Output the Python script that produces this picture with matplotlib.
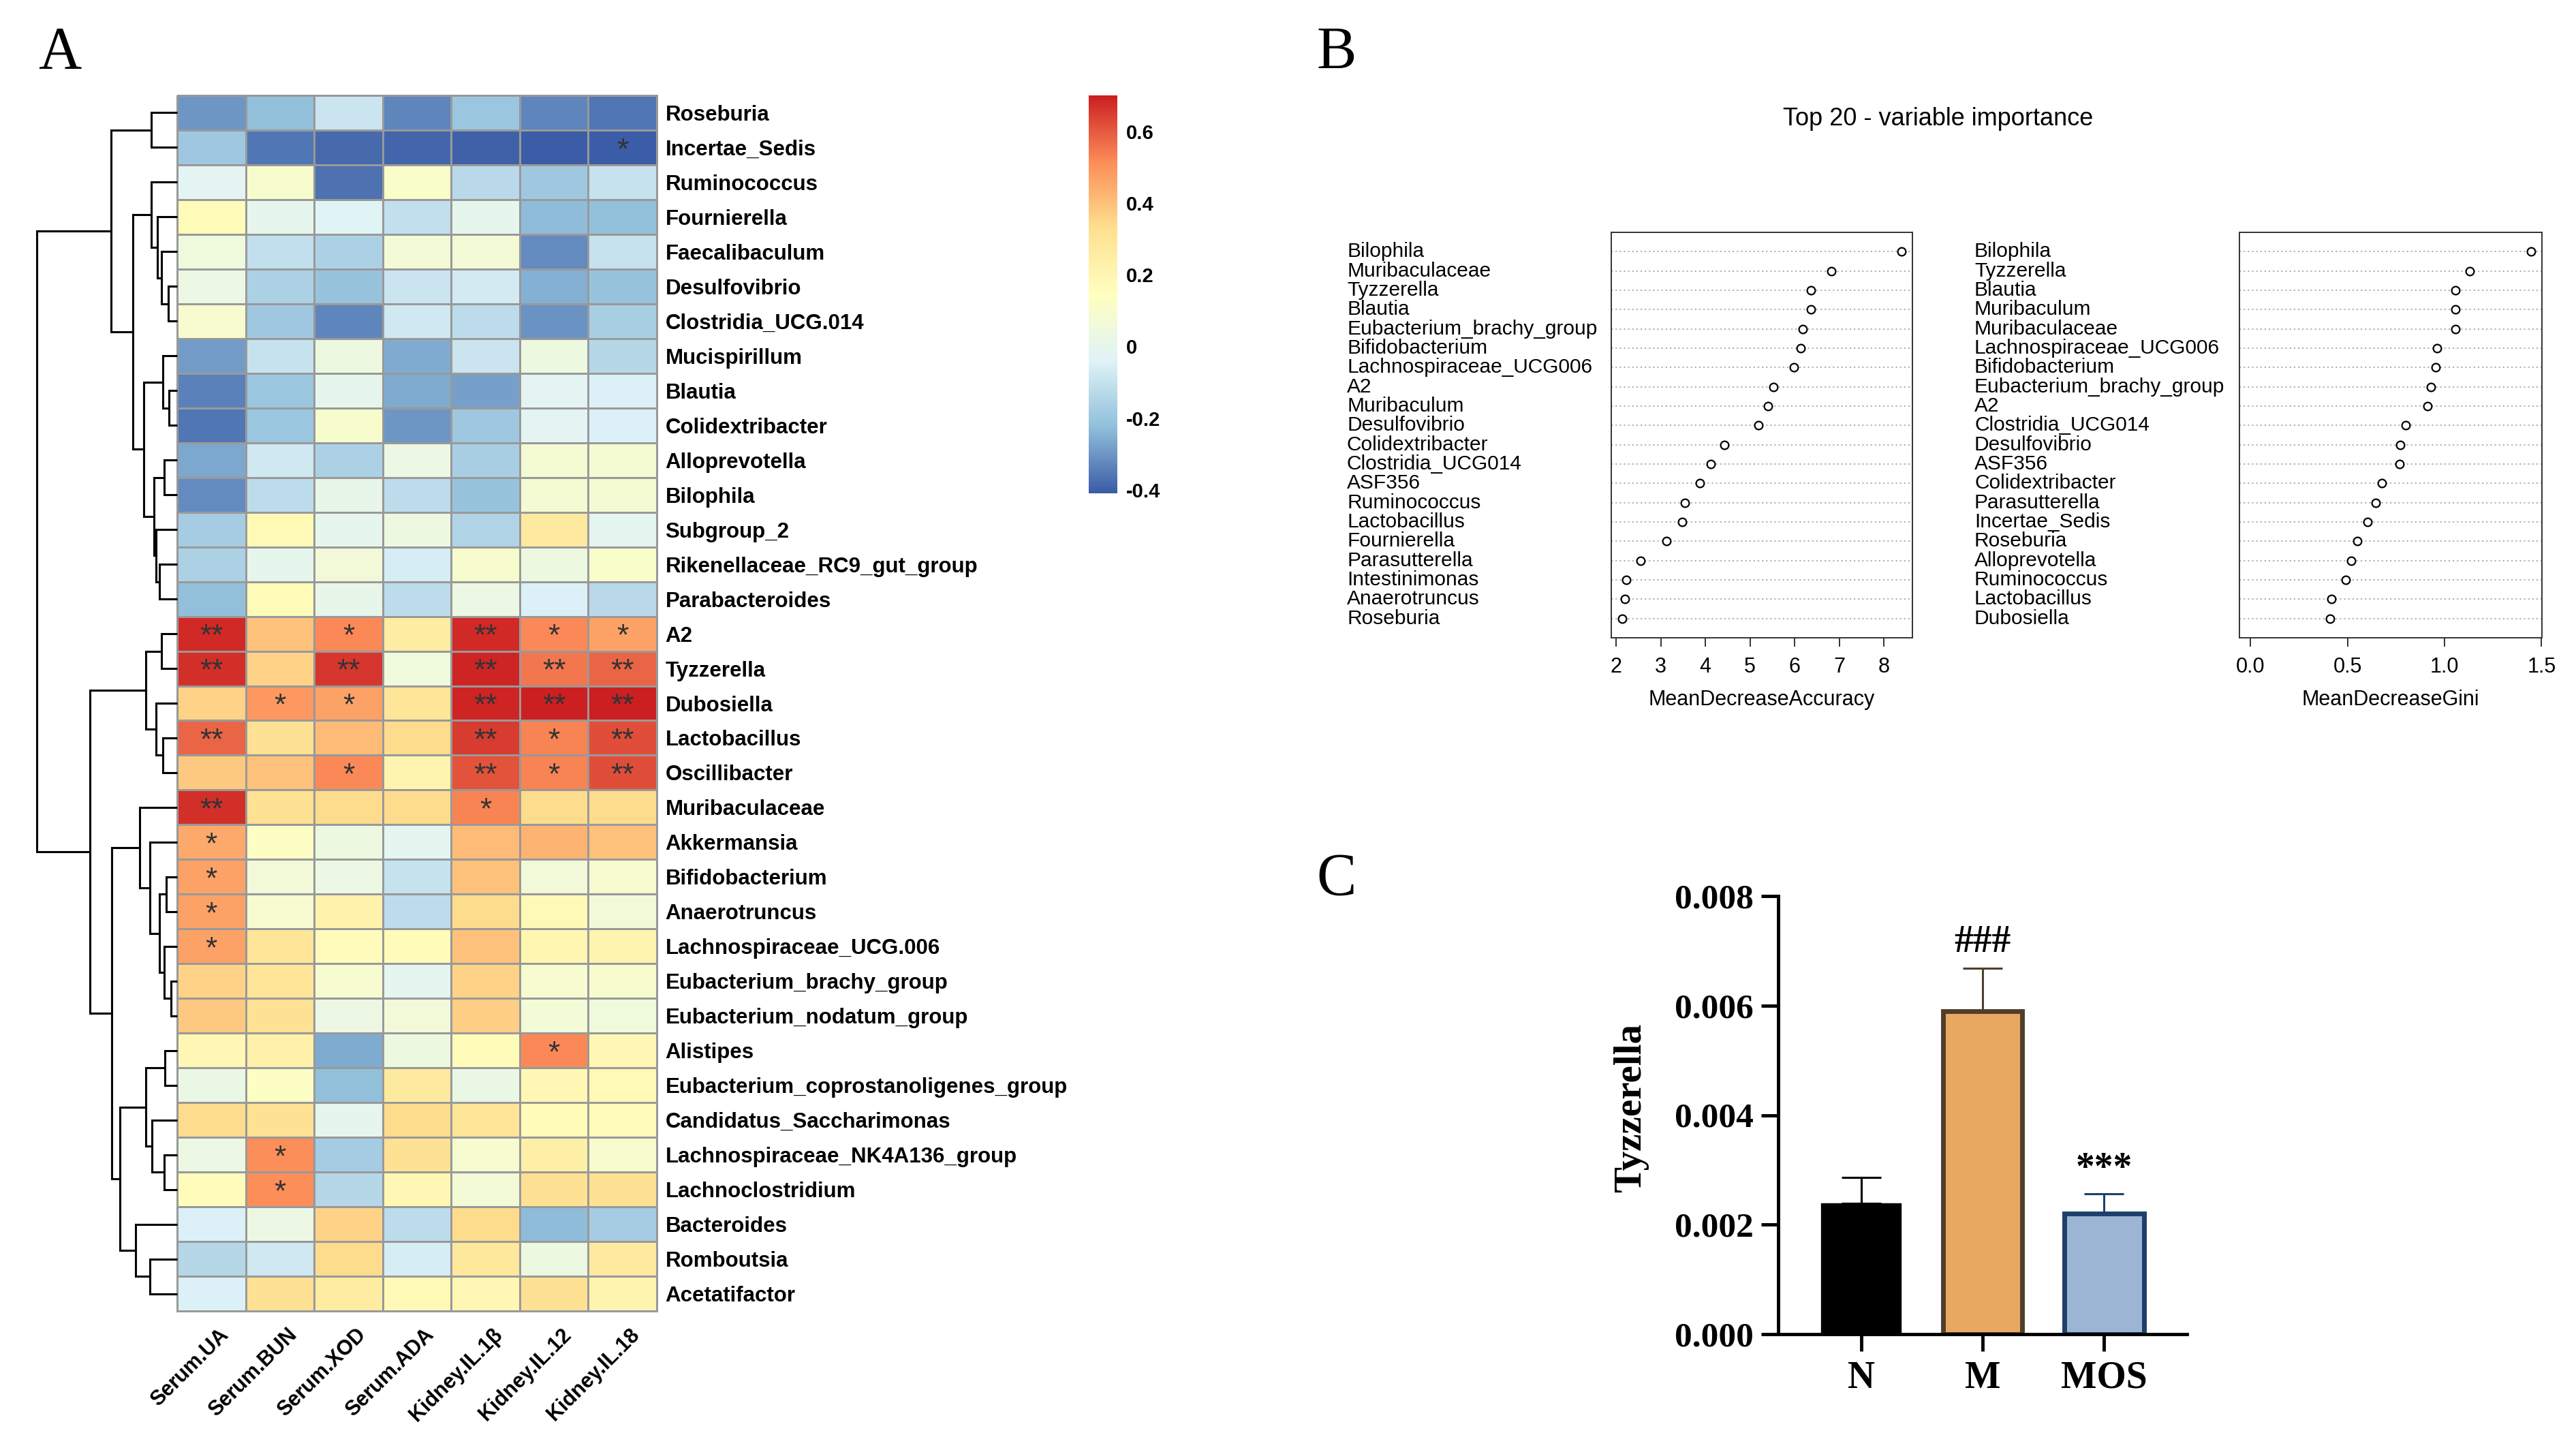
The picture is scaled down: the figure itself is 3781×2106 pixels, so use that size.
import numpy as np
import matplotlib
matplotlib.use('Agg')
import matplotlib.pyplot as plt
from matplotlib.colors import LinearSegmentedColormap, Normalize
from matplotlib.cm import ScalarMappable

# ---------------- data ----------------
heat_rows = ["Roseburia", "Incertae_Sedis", "Ruminococcus", "Fournierella", "Faecalibaculum",
             "Desulfovibrio", "Clostridia_UCG.014", "Mucispirillum", "Blautia", "Colidextribacter",
             "Alloprevotella", "Bilophila", "Subgroup_2", "Rikenellaceae_RC9_gut_group",
             "Parabacteroides", "A2", "Tyzzerella", "Dubosiella", "Lactobacillus", "Oscillibacter",
             "Muribaculaceae", "Akkermansia", "Bifidobacterium", "Anaerotruncus",
             "Lachnospiraceae_UCG.006", "Eubacterium_brachy_group", "Eubacterium_nodatum_group",
             "Alistipes", "Eubacterium_coprostanoligenes_group", "Candidatus_Saccharimonas",
             "Lachnospiraceae_NK4A136_group", "Lachnoclostridium", "Bacteroides", "Romboutsia",
             "Acetatifactor"]
heat_cols = ["Serum.UA", "Serum.BUN", "Serum.XOD", "Serum.ADA", "Kidney.IL.1\u03b2",
             "Kidney.IL.12", "Kidney.IL.18"]
heat_values = [
    [-0.30, -0.22, -0.09, -0.33, -0.20, -0.33, -0.36],
    [-0.19, -0.36, -0.38, -0.39, -0.40, -0.41, -0.41],
    [-0.02, 0.10, -0.37, 0.11, -0.13, -0.19, -0.10],
    [0.17, 0.00, -0.03, -0.11, 0.00, -0.23, -0.22],
    [0.05, -0.11, -0.16, 0.07, 0.07, -0.32, -0.10],
    [0.03, -0.16, -0.21, -0.09, -0.07, -0.25, -0.21],
    [0.09, -0.19, -0.33, -0.08, -0.12, -0.31, -0.17],
    [-0.29, -0.10, 0.04, -0.26, -0.09, 0.04, -0.14],
    [-0.34, -0.20, 0.00, -0.26, -0.28, -0.02, -0.05],
    [-0.36, -0.20, 0.10, -0.30, -0.19, -0.02, -0.05],
    [-0.27, -0.08, -0.16, 0.03, -0.17, 0.08, 0.08],
    [-0.32, -0.12, 0.01, -0.12, -0.21, 0.08, 0.08],
    [-0.18, 0.18, 0.00, 0.04, -0.15, 0.27, -0.01],
    [-0.16, 0.00, 0.06, -0.06, 0.10, 0.04, 0.11],
    [-0.22, 0.17, 0.01, -0.12, 0.03, -0.05, -0.13],
    [0.68, 0.40, 0.52, 0.26, 0.68, 0.52, 0.47],
    [0.67, 0.36, 0.66, 0.05, 0.69, 0.55, 0.58],
    [0.36, 0.49, 0.47, 0.30, 0.69, 0.70, 0.70],
    [0.58, 0.32, 0.41, 0.34, 0.65, 0.53, 0.62],
    [0.38, 0.40, 0.52, 0.21, 0.61, 0.53, 0.62],
    [0.67, 0.32, 0.34, 0.34, 0.53, 0.34, 0.34],
    [0.45, 0.13, 0.04, -0.01, 0.41, 0.43, 0.40],
    [0.47, 0.06, 0.03, -0.10, 0.40, 0.06, 0.09],
    [0.47, 0.09, 0.22, -0.12, 0.34, 0.18, 0.06],
    [0.47, 0.30, 0.16, 0.17, 0.40, 0.20, 0.21],
    [0.36, 0.30, 0.09, -0.01, 0.36, 0.09, 0.10],
    [0.38, 0.32, 0.03, 0.06, 0.37, 0.07, 0.05],
    [0.19, 0.23, -0.26, 0.04, 0.17, 0.52, 0.19],
    [0.02, 0.13, -0.22, 0.27, 0.02, 0.19, 0.18],
    [0.34, 0.32, 0.00, 0.34, 0.30, 0.17, 0.16],
    [0.03, 0.51, -0.18, 0.32, 0.09, 0.24, 0.10],
    [0.16, 0.51, -0.14, 0.19, 0.07, 0.32, 0.32],
    [-0.05, 0.03, 0.36, -0.12, 0.34, -0.23, -0.18],
    [-0.14, -0.08, 0.34, -0.06, 0.28, 0.04, 0.27],
    [-0.05, 0.32, 0.26, 0.18, 0.19, 0.32, 0.21],
]
heat_stars = [
    ["", "", "", "", "", "", ""],
    ["", "", "", "", "", "", "*"],
    ["", "", "", "", "", "", ""],
    ["", "", "", "", "", "", ""],
    ["", "", "", "", "", "", ""],
    ["", "", "", "", "", "", ""],
    ["", "", "", "", "", "", ""],
    ["", "", "", "", "", "", ""],
    ["", "", "", "", "", "", ""],
    ["", "", "", "", "", "", ""],
    ["", "", "", "", "", "", ""],
    ["", "", "", "", "", "", ""],
    ["", "", "", "", "", "", ""],
    ["", "", "", "", "", "", ""],
    ["", "", "", "", "", "", ""],
    ["**", "", "*", "", "**", "*", "*"],
    ["**", "", "**", "", "**", "**", "**"],
    ["", "*", "*", "", "**", "**", "**"],
    ["**", "", "", "", "**", "*", "**"],
    ["", "", "*", "", "**", "*", "**"],
    ["**", "", "", "", "*", "", ""],
    ["*", "", "", "", "", "", ""],
    ["*", "", "", "", "", "", ""],
    ["*", "", "", "", "", "", ""],
    ["*", "", "", "", "", "", ""],
    ["", "", "", "", "", "", ""],
    ["", "", "", "", "", "", ""],
    ["", "", "", "", "", "*", ""],
    ["", "", "", "", "", "", ""],
    ["", "", "", "", "", "", ""],
    ["", "*", "", "", "", "", ""],
    ["", "*", "", "", "", "", ""],
    ["", "", "", "", "", "", ""],
    ["", "", "", "", "", "", ""],
    ["", "", "", "", "", "", ""],
]
# row dendrogram: (child_a, child_b, height); leaves 0..34 in display order, new nodes 35..
row_merges = [
    (5, 6, 0.062), (4, 35, 0.111), (3, 36, 0.142), (2, 37, 0.186),
    (8, 9, 0.056), (7, 39, 0.102), (10, 11, 0.093), (13, 14, 0.124),
    (12, 42, 0.149), (41, 43, 0.164), (40, 44, 0.238), (38, 45, 0.316),
    (0, 1, 0.186), (47, 46, 0.470),
    (15, 16, 0.111), (18, 19, 0.102), (17, 50, 0.149), (49, 51, 0.223),
    (22, 23, 0.077), (25, 26, 0.046), (24, 54, 0.093), (53, 55, 0.124),
    (21, 56, 0.192), (20, 57, 0.266),
    (27, 28, 0.087), (30, 31, 0.093), (29, 60, 0.180), (59, 61, 0.223),
    (33, 34, 0.192), (32, 63, 0.294), (62, 64, 0.409), (58, 65, 0.464),
    (52, 66, 0.619), (48, 67, 1.000),
]
cbar_ticks = [-0.4, -0.2, 0.0, 0.2, 0.4, 0.6]
cbar_labels = ["-0.4", "-0.2", "0", "0.2", "0.4", "0.6"]

acc_names = ["Bilophila", "Muribaculaceae", "Tyzzerella", "Blautia", "Eubacterium_brachy_group",
             "Bifidobacterium", "Lachnospiraceae_UCG006", "A2", "Muribaculum", "Desulfovibrio",
             "Colidextribacter", "Clostridia_UCG014", "ASF356", "Ruminococcus", "Lactobacillus",
             "Fournierella", "Parasutterella", "Intestinimonas", "Anaerotruncus", "Roseburia"]
acc_values = [8.39, 6.83, 6.37, 6.37, 6.18, 6.13, 5.98, 5.52, 5.40, 5.19,
              4.43, 4.12, 3.87, 3.54, 3.48, 3.13, 2.54, 2.23, 2.20, 2.14]
acc_ticks = [2, 3, 4, 5, 6, 7, 8]

gini_names = ["Bilophila", "Tyzzerella", "Blautia", "Muribaculum", "Muribaculaceae",
              "Lachnospiraceae_UCG006", "Bifidobacterium", "Eubacterium_brachy_group", "A2",
              "Clostridia_UCG014", "Desulfovibrio", "ASF356", "Colidextribacter", "Parasutterella",
              "Incertae_Sedis", "Roseburia", "Alloprevotella", "Ruminococcus", "Lactobacillus",
              "Dubosiella"]
gini_values = [1.444, 1.129, 1.055, 1.055, 1.055, 0.961, 0.954, 0.928, 0.912, 0.799,
               0.772, 0.766, 0.676, 0.643, 0.604, 0.551, 0.519, 0.490, 0.416, 0.409]
gini_ticks = [0.0, 0.5, 1.0, 1.5]

c_groups = ["N", "M", "MOS"]
c_means = [0.00239, 0.00590, 0.00220]
c_err = [0.00047, 0.00078, 0.00036]
c_marks = ["", "###", "***"]
c_mark_y = [0.0, 0.00715, 0.00301]
c_fill = ["#000000", "#E8A862", "#9DB5D4"]
c_edge = ["#000000", "#4F3F2C", "#1F3F6C"]
c_yticks = [0.000, 0.002, 0.004, 0.006, 0.008]

# ---------------- figure ----------------
W, H = 3781, 2106
fig = plt.figure(figsize=(W / 100, H / 100), dpi=100)
SANS = "Liberation Sans"
SERIF = "Liberation Serif"


def px_axes(l, t, r, b):
    return fig.add_axes([l / W, 1 - b / H, (r - l) / W, (b - t) / H])


def fx(x):
    return x / W


def fy(y):
    return 1 - y / H


# panel letters
for letter, (x, y) in zip("ABC", [(88, 100), (1962, 100), (1962, 1313)]):
    fig.text(fx(x), fy(y), letter, ha="center", va="baseline", fontsize=63, family=SERIF)

# ---------------- A: heatmap ----------------
vals = np.array(heat_values)
nrow, ncol = vals.shape
cmap = LinearSegmentedColormap.from_list(
    "rdylbu", ["#3B5CA6", "#91BFDB", "#E0F3F8", "#FFFFBF", "#FEE090", "#FC8D59", "#CC1F21"])
norm = Normalize(vmin=vals.min(), vmax=vals.max())

HL, HT, HR, HB = 260, 140, 964, 1924
axh = px_axes(HL, HT, HR, HB)
mesh = axh.pcolormesh(np.arange(ncol + 1), np.arange(nrow + 1), vals, cmap=cmap, norm=norm,
                      edgecolors="#999999", linewidth=1.8)
mesh.set_clip_on(False)
axh.set_xlim(0, ncol)
axh.set_ylim(nrow, 0)
for s in axh.spines.values():
    s.set_visible(False)
axh.set_xticks([])
axh.yaxis.tick_right()
axh.set_yticks(np.arange(nrow) + 0.5)
axh.set_yticklabels(heat_rows, fontweight="bold", fontsize=22.5, family=SANS)
axh.tick_params(axis="y", length=0, pad=9)

cw = (HR - HL) / ncol
rh = (HB - HT) / nrow
for c, name in enumerate(heat_cols):
    axh.text(c + 0.5 + 10 / cw, nrow + 20 / rh, name, rotation=45, ha="right", va="top",
             rotation_mode="anchor", fontsize=22, fontweight="bold", family=SANS)
for r in range(nrow):
    for c in range(ncol):
        if heat_stars[r][c]:
            axh.text(c + 0.5, r + 0.5 + 5 / rh, heat_stars[r][c], ha="center", va="center",
                     fontsize=32, color="#333333", family=SANS)

# dendrogram
axd = px_axes(54, HT, HL, HB)
axd.set_xlim(1.0, 0.0)
axd.set_ylim(nrow, 0)
axd.axis("off")
pos = {i: i + 0.5 for i in range(nrow)}
hgt = {i: 0.0 for i in range(nrow)}
for k, (a, b, h) in enumerate(row_merges):
    nid = nrow + k
    axd.plot([hgt[a], h, h, hgt[b]], [pos[a], pos[a], pos[b], pos[b]], color="black",
             lw=2.2, clip_on=False, solid_capstyle="butt", solid_joinstyle="miter")
    pos[nid] = (pos[a] + pos[b]) / 2
    hgt[nid] = h

# colorbar
cax = px_axes(1598, 140, 1640, 724)
cb = fig.colorbar(ScalarMappable(norm=norm, cmap=cmap), cax=cax)
cb.outline.set_visible(False)
cb.set_ticks(cbar_ticks)
cb.set_ticklabels(cbar_labels)
cax.tick_params(length=0, pad=9, labelsize=21)
for t in cax.get_yticklabels():
    t.set_fontweight("bold")
    t.set_family(SANS)

# ---------------- B: variable importance ----------------
fig.text(fx(2845), fy(174), "Top 20 - variable importance", ha="center", va="center",
         fontsize=26, family=SANS)


def dotchart(box, names, values, xmin, ticks, ticklabels, label_x, xlabel):
    l, t, r, b = box
    ax = px_axes(l, t, r, b)
    n = len(names)
    y = np.arange(n, 0, -1)
    for yy in y:
        ax.axhline(yy, color="#a8a8a8", lw=1.3, ls=(0, (1.2, 2.2)), zorder=1)
    ax.plot(values, y, "o", mfc="white", mec="black", ms=8.5, mew=1.6, zorder=3)
    span = max(values) - xmin
    ax.set_xlim(xmin - 0.04 * span, max(values) + 0.04 * span)
    ax.set_ylim(0, n + 1)
    ax.set_yticks([])
    ax.set_xticks(ticks)
    ax.set_xticklabels(ticklabels, family=SANS)
    ax.tick_params(axis="x", length=9.5, width=1.4, pad=11, labelsize=22, color="#333333")
    for s in ax.spines.values():
        s.set_linewidth(1.4)
        s.set_color("#333333")
    for nm, yy in zip(names, y):
        ax.text((label_x - l) / (r - l), yy, nm, transform=ax.get_yaxis_transform(),
                ha="left", va="center", fontsize=21.5, family=SANS)
    fig.text(fx((l + r) / 2), fy(1027), xlabel, ha="center", va="center", fontsize=22,
             family=SANS)
    return ax


dotchart((2365, 341, 2807, 936), acc_names, acc_values, min(acc_values), acc_ticks,
         [str(v) for v in acc_ticks], 1977, "MeanDecreaseAccuracy")
dotchart((3287, 341, 3731, 936), gini_names, gini_values, 0.0, gini_ticks,
         ["%.1f" % v for v in gini_ticks], 2898, "MeanDecreaseGini")

# ---------------- C: bar chart ----------------
axc = px_axes(2610, 1315, 3210, 1958)
xs = np.arange(len(c_groups))
for i in range(len(c_groups)):
    axc.bar(xs[i], c_means[i], width=0.657, color=c_fill[i], edgecolor=c_edge[i],
            linewidth=5 if i > 0 else 1, zorder=2)
    axc.errorbar(xs[i], c_means[i], yerr=[[0], [c_err[i]]], color=c_edge[i], capsize=21,
                 elinewidth=2.2, capthick=2.2, zorder=1)
    if c_marks[i]:
        axc.text(xs[i], c_mark_y[i], c_marks[i], ha="center", va="center", fontsize=40,
                 fontweight="bold", family=SERIF)
axc.set_xlim(-0.685, 2.685)
axc.set_ylim(0, 0.008)
for side in ("top", "right"):
    axc.spines[side].set_visible(False)
for side in ("left", "bottom"):
    axc.spines[side].set_linewidth(3.5)
axc.set_yticks(c_yticks)
axc.set_yticklabels(["%.3f" % v for v in c_yticks], fontsize=37, fontweight="bold", family=SERIF)
axc.set_xticks(xs)
axc.set_xticklabels(c_groups, fontsize=40, fontweight="bold", family=SERIF)
axc.tick_params(axis="both", length=18, width=3.5)
axc.tick_params(axis="y", pad=8)
axc.tick_params(axis="x", pad=10)
fig.text(fx(2394), fy(1626), "Tyzzerella", rotation=90, ha="center", va="center",
         fontsize=41, fontweight="bold", family=SERIF)

fig.savefig("out.png", dpi=100, facecolor="white")
